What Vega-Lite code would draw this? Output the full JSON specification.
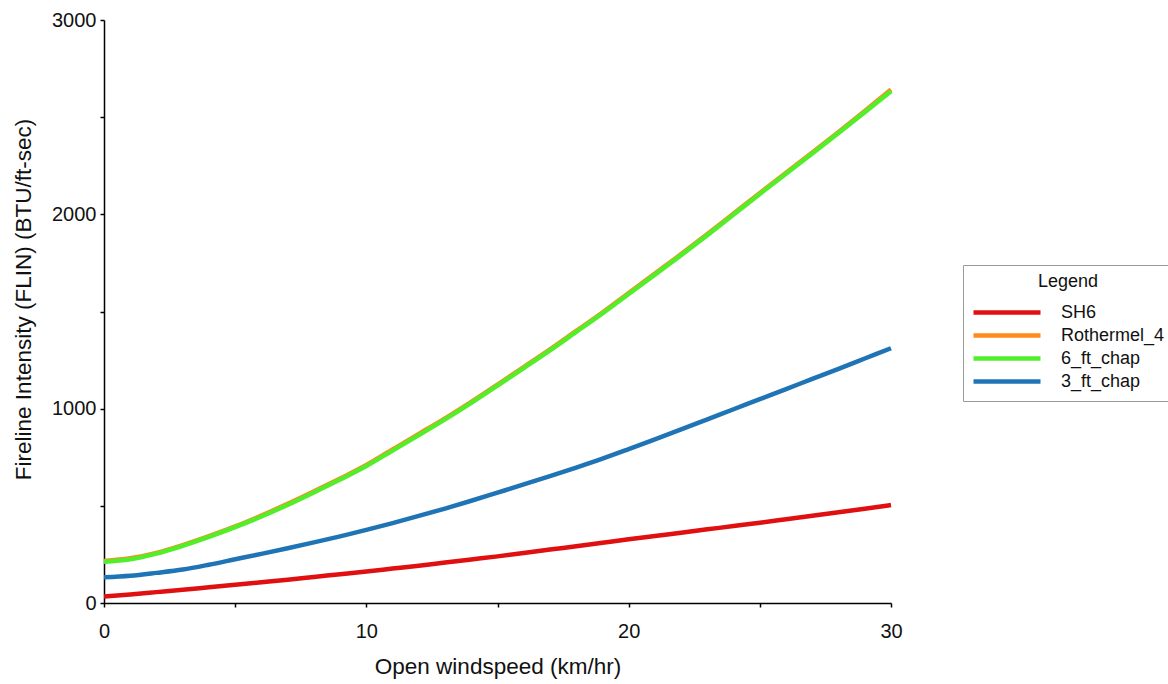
{
  "$schema": "https://vega.github.io/schema/vega-lite/v6.json",
  "width": 787,
  "height": 583,
  "autosize": {"type": "none"},
  "padding": {"left": 104, "top": 20, "right": 277, "bottom": 81},
  "background": "white",
  "config": {
    "view": {"stroke": null},
    "font": "Liberation Sans",
    "axis": {
      "grid": false,
      "domainColor": "#000000",
      "domainWidth": 1.5,
      "tickColor": "#000000",
      "tickWidth": 1.5,
      "tickSize": 4,
      "labelFlush": false,
      "labelFont": "Liberation Sans",
      "labelFontSize": 20,
      "labelColor": "#111111",
      "titleFont": "Liberation Sans",
      "titleFontSize": 22.5,
      "titleFontWeight": "normal",
      "titleColor": "#111111"
    }
  },
  "data": {
    "values": [
      {"x": 0, "v": 33, "s": "SH6"}, {"x": 1, "v": 44, "s": "SH6"}, {"x": 2, "v": 56, "s": "SH6"}, {"x": 3, "v": 68, "s": "SH6"}, {"x": 4, "v": 81, "s": "SH6"}, {"x": 5, "v": 94, "s": "SH6"}, {"x": 6, "v": 107, "s": "SH6"}, {"x": 7, "v": 120, "s": "SH6"}, {"x": 8, "v": 134, "s": "SH6"}, {"x": 9, "v": 148, "s": "SH6"}, {"x": 10, "v": 162, "s": "SH6"}, {"x": 11, "v": 177, "s": "SH6"}, {"x": 12, "v": 192, "s": "SH6"}, {"x": 13, "v": 208, "s": "SH6"}, {"x": 14, "v": 224, "s": "SH6"}, {"x": 15, "v": 240, "s": "SH6"}, {"x": 16, "v": 257, "s": "SH6"}, {"x": 17, "v": 275, "s": "SH6"}, {"x": 18, "v": 292, "s": "SH6"}, {"x": 19, "v": 310, "s": "SH6"}, {"x": 20, "v": 328, "s": "SH6"}, {"x": 21, "v": 345, "s": "SH6"}, {"x": 22, "v": 362, "s": "SH6"}, {"x": 23, "v": 379, "s": "SH6"}, {"x": 24, "v": 396, "s": "SH6"}, {"x": 25, "v": 413, "s": "SH6"}, {"x": 26, "v": 431, "s": "SH6"}, {"x": 27, "v": 449, "s": "SH6"}, {"x": 28, "v": 467, "s": "SH6"}, {"x": 29, "v": 485, "s": "SH6"}, {"x": 30, "v": 504, "s": "SH6"},

      {"x": 0, "v": 216, "s": "Rothermel_4"}, {"x": 1, "v": 230, "s": "Rothermel_4"}, {"x": 2, "v": 258, "s": "Rothermel_4"}, {"x": 3, "v": 298, "s": "Rothermel_4"}, {"x": 4, "v": 344, "s": "Rothermel_4"}, {"x": 5, "v": 394, "s": "Rothermel_4"}, {"x": 6, "v": 450, "s": "Rothermel_4"}, {"x": 7, "v": 510, "s": "Rothermel_4"}, {"x": 8, "v": 574, "s": "Rothermel_4"}, {"x": 9, "v": 640, "s": "Rothermel_4"}, {"x": 10, "v": 710, "s": "Rothermel_4"}, {"x": 11, "v": 790, "s": "Rothermel_4"}, {"x": 12, "v": 870, "s": "Rothermel_4"}, {"x": 13, "v": 950, "s": "Rothermel_4"}, {"x": 14, "v": 1035, "s": "Rothermel_4"}, {"x": 15, "v": 1124, "s": "Rothermel_4"}, {"x": 16, "v": 1214, "s": "Rothermel_4"}, {"x": 17, "v": 1305, "s": "Rothermel_4"}, {"x": 18, "v": 1400, "s": "Rothermel_4"}, {"x": 19, "v": 1495, "s": "Rothermel_4"}, {"x": 20, "v": 1595, "s": "Rothermel_4"}, {"x": 21, "v": 1695, "s": "Rothermel_4"}, {"x": 22, "v": 1795, "s": "Rothermel_4"}, {"x": 23, "v": 1898, "s": "Rothermel_4"}, {"x": 24, "v": 2004, "s": "Rothermel_4"}, {"x": 25, "v": 2110, "s": "Rothermel_4"}, {"x": 26, "v": 2214, "s": "Rothermel_4"}, {"x": 27, "v": 2318, "s": "Rothermel_4"}, {"x": 28, "v": 2424, "s": "Rothermel_4"}, {"x": 29, "v": 2532, "s": "Rothermel_4"}, {"x": 30, "v": 2642, "s": "Rothermel_4"},

      {"x": 0, "v": 212, "s": "6_ft_chap"}, {"x": 1, "v": 225, "s": "6_ft_chap"}, {"x": 2, "v": 254, "s": "6_ft_chap"}, {"x": 3, "v": 294, "s": "6_ft_chap"}, {"x": 4, "v": 340, "s": "6_ft_chap"}, {"x": 5, "v": 390, "s": "6_ft_chap"}, {"x": 6, "v": 445, "s": "6_ft_chap"}, {"x": 7, "v": 505, "s": "6_ft_chap"}, {"x": 8, "v": 569, "s": "6_ft_chap"}, {"x": 9, "v": 635, "s": "6_ft_chap"}, {"x": 10, "v": 705, "s": "6_ft_chap"}, {"x": 11, "v": 784, "s": "6_ft_chap"}, {"x": 12, "v": 864, "s": "6_ft_chap"}, {"x": 13, "v": 945, "s": "6_ft_chap"}, {"x": 14, "v": 1030, "s": "6_ft_chap"}, {"x": 15, "v": 1119, "s": "6_ft_chap"}, {"x": 16, "v": 1209, "s": "6_ft_chap"}, {"x": 17, "v": 1300, "s": "6_ft_chap"}, {"x": 18, "v": 1395, "s": "6_ft_chap"}, {"x": 19, "v": 1490, "s": "6_ft_chap"}, {"x": 20, "v": 1590, "s": "6_ft_chap"}, {"x": 21, "v": 1690, "s": "6_ft_chap"}, {"x": 22, "v": 1790, "s": "6_ft_chap"}, {"x": 23, "v": 1893, "s": "6_ft_chap"}, {"x": 24, "v": 1999, "s": "6_ft_chap"}, {"x": 25, "v": 2105, "s": "6_ft_chap"}, {"x": 26, "v": 2209, "s": "6_ft_chap"}, {"x": 27, "v": 2313, "s": "6_ft_chap"}, {"x": 28, "v": 2419, "s": "6_ft_chap"}, {"x": 29, "v": 2526, "s": "6_ft_chap"}, {"x": 30, "v": 2634, "s": "6_ft_chap"},

      {"x": 0, "v": 132, "s": "3_ft_chap"}, {"x": 1, "v": 140, "s": "3_ft_chap"}, {"x": 2, "v": 155, "s": "3_ft_chap"}, {"x": 3, "v": 172, "s": "3_ft_chap"}, {"x": 4, "v": 197, "s": "3_ft_chap"}, {"x": 5, "v": 225, "s": "3_ft_chap"}, {"x": 6, "v": 253, "s": "3_ft_chap"}, {"x": 7, "v": 282, "s": "3_ft_chap"}, {"x": 8, "v": 312, "s": "3_ft_chap"}, {"x": 9, "v": 343, "s": "3_ft_chap"}, {"x": 10, "v": 376, "s": "3_ft_chap"}, {"x": 11, "v": 411, "s": "3_ft_chap"}, {"x": 12, "v": 448, "s": "3_ft_chap"}, {"x": 13, "v": 486, "s": "3_ft_chap"}, {"x": 14, "v": 526, "s": "3_ft_chap"}, {"x": 15, "v": 568, "s": "3_ft_chap"}, {"x": 16, "v": 610, "s": "3_ft_chap"}, {"x": 17, "v": 653, "s": "3_ft_chap"}, {"x": 18, "v": 697, "s": "3_ft_chap"}, {"x": 19, "v": 743, "s": "3_ft_chap"}, {"x": 20, "v": 792, "s": "3_ft_chap"}, {"x": 21, "v": 842, "s": "3_ft_chap"}, {"x": 22, "v": 893, "s": "3_ft_chap"}, {"x": 23, "v": 945, "s": "3_ft_chap"}, {"x": 24, "v": 997, "s": "3_ft_chap"}, {"x": 25, "v": 1049, "s": "3_ft_chap"}, {"x": 26, "v": 1101, "s": "3_ft_chap"}, {"x": 27, "v": 1153, "s": "3_ft_chap"}, {"x": 28, "v": 1205, "s": "3_ft_chap"}, {"x": 29, "v": 1258, "s": "3_ft_chap"}, {"x": 30, "v": 1311, "s": "3_ft_chap"}
    ]
  },
  "mark": {"type": "line", "strokeWidth": 4.5, "interpolate": "monotone"},
  "encoding": {
    "x": {
      "field": "x",
      "type": "quantitative",
      "scale": {"domain": [0, 30], "nice": false},
      "axis": {
        "title": "Open windspeed (km/hr)",
        "values": [0, 5, 10, 15, 20, 25, 30],
        "labelExpr": "datum.value % 10 === 0 ? datum.label : ''",
        "labelPadding": 14,
        "titlePadding": 14
      }
    },
    "y": {
      "field": "v",
      "type": "quantitative",
      "scale": {"domain": [0, 3000], "nice": false},
      "axis": {
        "title": "Fireline Intensity (FLIN) (BTU/ft-sec)",
        "values": [0, 500, 1000, 1500, 2000, 2500, 3000],
        "labelExpr": "datum.value % 1000 === 0 ? datum.label : ''",
        "format": "d",
        "labelPadding": 4,
        "titlePadding": 16,
        "titleY": 279
      }
    },
    "color": {
      "field": "s",
      "type": "nominal",
      "sort": null,
      "scale": {
        "domain": ["SH6", "Rothermel_4", "6_ft_chap", "3_ft_chap"],
        "range": ["#e01010", "#ff8a1c", "#52ee2a", "#1f74b6"]
      },
      "legend": {
        "title": "Legend",
        "orient": "none",
        "legendX": 859,
        "legendY": 245,
        "titleAnchor": "middle",
        "titleFont": "Liberation Sans",
        "titleFontSize": 18,
        "titleFontWeight": "normal",
        "titleColor": "#111111",
        "titlePadding": 10,
        "labelFont": "Liberation Sans",
        "labelFontSize": 18,
        "labelColor": "#111111",
        "labelOffset": 18,
        "symbolType": "stroke",
        "symbolSize": 4489,
        "symbolStrokeWidth": 4.5,
        "clipHeight": 23,
        "rowPadding": 0,
        "padding": 8,
        "fillColor": "white",
        "strokeColor": "#9a9a9a",
        "cornerRadius": 0
      }
    }
  }
}
